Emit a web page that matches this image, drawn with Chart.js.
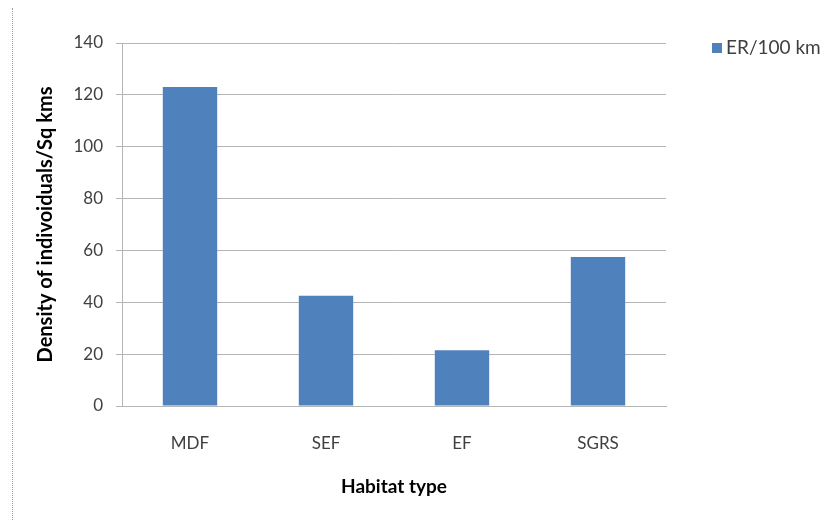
<!DOCTYPE html>
<html>
<head>
<meta charset="utf-8">
<script src="https://cdn.jsdelivr.net/npm/chart.js@4"></script>
<style>
  html, body { margin: 0; padding: 0; background: #fff; }
  #wrap { position: relative; width: 825px; height: 523px; }
  #frame { position: absolute; left: 12px; top: 8px; height: 512px; border-left: 1px dotted #9a9a9a; }
  canvas { position: absolute; left: 0; top: 0; }
</style>
</head>
<body>
<div id="wrap">
  <div id="frame"></div>
  <canvas id="c" width="825" height="523"></canvas>
</div>
<script>
const categories = ["MDF", "SEF", "EF", "SGRS"];
const seriesName = "ER/100 km";
const seriesValues = [123, 42.5, 21.5, 57.5];
const yTicks = [0, 20, 40, 60, 80, 100, 120, 140];
const xTitle = "Habitat type";
const yTitle = "Density of indivoiduals/Sq kms";

const FONT = "Lato, 'Open Sans', sans-serif";
const BAR = "#4F81BD";
const GRID = "#b5b5b5";

const legendPlugin = {
  id: 'sideLegend',
  afterDraw(chart) {
    const ctx = chart.ctx;
    const area = chart.chartArea;
    ctx.save();
    chart.data.datasets.forEach((ds, i) => {
      const x = area.right + 46;
      const y = area.top + 5 + i * 22;
      ctx.fillStyle = ds.backgroundColor;
      ctx.fillRect(x, y - 5, 10, 10);
      ctx.fillStyle = '#404040';
      ctx.font = "19px " + FONT;
      ctx.textBaseline = 'middle';
      ctx.textAlign = 'left';
      ctx.fillText(ds.label, x + 14, y);
    });
    ctx.restore();
  }
};

new Chart(document.getElementById('c'), {
  type: 'bar',
  data: {
    labels: categories,
    datasets: [{
      label: seriesName,
      data: seriesValues,
      backgroundColor: BAR,
      borderWidth: 0,
      categoryPercentage: 0.8,
      barPercentage: 0.5
    }]
  },
  options: {
    responsive: false,
    animation: false,
    layout: { padding: { top: 43, right: 159, left: 0, bottom: 0 } },
    plugins: {
      legend: { display: false },
      tooltip: { enabled: false }
    },
    scales: {
      x: {
        grid: { display: false },
        border: { display: true, color: GRID, width: 1 },
        ticks: { color: '#404040', font: { family: FONT, size: 17 }, padding: 19 },
        title: {
          display: true, text: xTitle, color: '#000',
          font: { family: FONT, size: 19, weight: 'bold' },
          padding: { top: 0, bottom: 25 }
        },
        afterFit(scale) { scale.height = 117; }
      },
      y: {
        min: 0, max: 140,
        afterBuildTicks(scale) { scale.ticks = yTicks.map(v => ({ value: v })); },
        grid: { color: GRID, lineWidth: 1, tickLength: 6, drawTicks: true },
        border: { display: true, color: GRID, width: 1 },
        ticks: { color: '#404040', font: { family: FONT, size: 17 }, padding: 13 },
        title: {
          display: true, text: yTitle, color: '#000',
          font: { family: FONT, size: 20, weight: 'bold' },
          padding: { top: 34, bottom: 0 }
        },
        afterFit(scale) { scale.width = 122; }
      }
    }
  },
  plugins: [legendPlugin]
});
</script>
</body>
</html>
